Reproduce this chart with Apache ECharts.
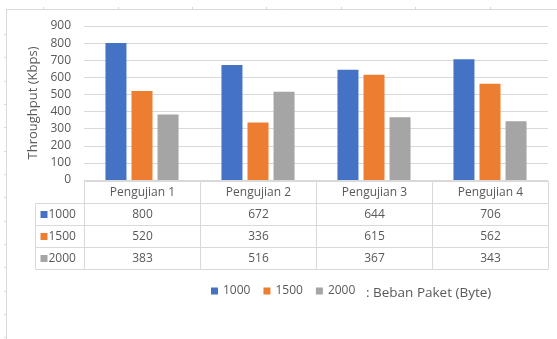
<!DOCTYPE html>
<html>
<head>
<meta charset="utf-8">
<script src="https://cdn.jsdelivr.net/npm/echarts@6/dist/echarts.min.js"></script>
<style>
html,body{margin:0;padding:0;background:#fff;}
#c{width:557px;height:339px;}
</style>
</head>
<body>
<div id="c"></div>
<script>
// ---- data ----
const categories = ['Pengujian 1', 'Pengujian 2', 'Pengujian 3', 'Pengujian 4'];
const seriesNames = ['1000', '1500', '2000'];
const values1000 = [800, 672, 644, 706];
const values1500 = [520, 336, 615, 562];
const values2000 = [383, 516, 367, 343];
const yMin = 0, yMax = 900, yStep = 100;
const yAxisName = 'Throughput (Kbps)';
const legendNote = ': Beban Paket (Byte)';

// ---- styling ----
const colors = ['#4472C4', '#ED7D31', '#A5A5A5'];
const textColor = '#595959';
const lineColor = '#d9d9d9';
const fontFamily = '"Open Sans", sans-serif';
const allValues = [values1000, values1500, values2000];

const chart = echarts.init(document.getElementById('c'), null, {renderer: 'canvas'});

// table geometry in table-axis units (one unit = one category column)
const labelColW = 49 / 116;
const tableData = [];
categories.forEach((c, i) => tableData.push([i, i + 1, 0, 1, 0, i, 0]));
seriesNames.forEach((s, r) => {
  tableData.push([-labelColW, 0, r + 1, r + 2, 1, r, 0]);
  categories.forEach((c, i) => tableData.push([i, i + 1, r + 1, r + 2, 2, r, i]));
});

function crisp(v) { return Math.round(v) + 0.5; }

function renderCell(params, api) {
  const p0 = api.coord([api.value(0), api.value(2)]);
  const p1 = api.coord([api.value(1), api.value(3)]);
  const x0 = crisp(Math.min(p0[0], p1[0])), x1 = crisp(Math.max(p0[0], p1[0]));
  const y0 = crisp(Math.min(p0[1], p1[1])), y1 = crisp(Math.max(p0[1], p1[1]));
  const kind = api.value(4), a = api.value(5), b = api.value(6);
  const cy = (y0 + y1) / 2;
  const children = [{
    type: 'rect',
    shape: {x: x0, y: y0, width: x1 - x0, height: y1 - y0},
    style: {fill: '#fff', stroke: lineColor, lineWidth: 1}
  }];
  const font = '12px ' + fontFamily;
  if (kind === 0) {
    children.push({type: 'text', style: {text: categories[a], x: (x0 + x1) / 2, y: cy, align: 'center', verticalAlign: 'middle', fill: textColor, font: font}});
  } else if (kind === 1) {
    children.push({type: 'rect', shape: {x: x0 + 5, y: Math.round(cy) - 4, width: 7, height: 7}, style: {fill: colors[a]}});
    children.push({type: 'text', style: {text: seriesNames[a], x: x0 + 13, y: cy, align: 'left', verticalAlign: 'middle', fill: textColor, font: font}});
  } else {
    children.push({type: 'text', style: {text: String(allValues[a][b]), x: (x0 + x1) / 2, y: cy, align: 'center', verticalAlign: 'middle', fill: textColor, font: font}});
  }
  return {type: 'group', children: children};
}

// page frame decoration
const frame = [
  {type: 'line', shape: {x1: 6, y1: 9.5, x2: 557, y2: 9.5}, style: {stroke: lineColor, lineWidth: 1}},
  {type: 'line', shape: {x1: 6.5, y1: 9, x2: 6.5, y2: 339}, style: {stroke: lineColor, lineWidth: 1}}
];
[43, 118, 192, 266, 341, 415, 490].forEach(x => frame.push({type: 'line', shape: {x1: x + 0.5, y1: 7, x2: x + 0.5, y2: 9}, style: {stroke: lineColor, lineWidth: 1}}));
[34, 57, 81, 104, 127, 151, 174, 197, 221, 244, 267, 291, 314, 337].forEach(y => frame.push({type: 'line', shape: {x1: 4, y1: y + 0.5, x2: 6, y2: y + 0.5}, style: {stroke: lineColor, lineWidth: 1}}));

const option = {
  backgroundColor: '#fff',
  animation: false,
  color: colors,
  textStyle: {fontFamily: fontFamily},
  grid: [
    {left: 84, right: 9, top: 26, height: 154},
    {left: 35, right: 9, top: 181, height: 88}
  ],
  xAxis: [
    {type: 'category', gridIndex: 0, data: categories,
     axisLine: {show: true, lineStyle: {color: lineColor}},
     axisTick: {show: false}, axisLabel: {show: false}},
    {type: 'value', gridIndex: 1, min: -labelColW, max: categories.length, show: false}
  ],
  yAxis: [
    {type: 'value', gridIndex: 0, min: yMin, max: yMax, interval: yStep,
     name: yAxisName, nameLocation: 'middle', nameGap: 42,
     nameTextStyle: {color: textColor, fontSize: 13, fontFamily: fontFamily},
     axisLine: {show: false}, axisTick: {show: false},
     axisLabel: {color: textColor, fontSize: 12, margin: 13, fontFamily: fontFamily},
     splitLine: {lineStyle: {color: lineColor}}},
    {type: 'value', gridIndex: 1, min: 0, max: seriesNames.length + 1, inverse: true, show: false}
  ],
  legend: {
    data: seriesNames, left: 211, top: 285, padding: 0,
    icon: 'rect', itemWidth: 7, itemHeight: 7, itemGap: 13,
    textStyle: {color: textColor, fontSize: 12, fontFamily: fontFamily}
  },
  graphic: frame.concat([
    {type: 'text', x: 366, y: 293, style: {text: legendNote, fill: textColor, font: '13.5px ' + fontFamily, verticalAlign: 'middle'}}
  ]),
  series: [
    {name: seriesNames[0], type: 'bar', xAxisIndex: 0, yAxisIndex: 0, data: values1000, barWidth: 21, barGap: '24%'},
    {name: seriesNames[1], type: 'bar', xAxisIndex: 0, yAxisIndex: 0, data: values1500, barWidth: 21, barGap: '24%'},
    {name: seriesNames[2], type: 'bar', xAxisIndex: 0, yAxisIndex: 0, data: values2000, barWidth: 21, barGap: '24%'},
    {type: 'custom', xAxisIndex: 1, yAxisIndex: 1, renderItem: renderCell, data: tableData,
     encode: {x: [0, 1], y: [2, 3]}, silent: true, clip: false}
  ]
};
chart.setOption(option);
</script>
</body>
</html>
